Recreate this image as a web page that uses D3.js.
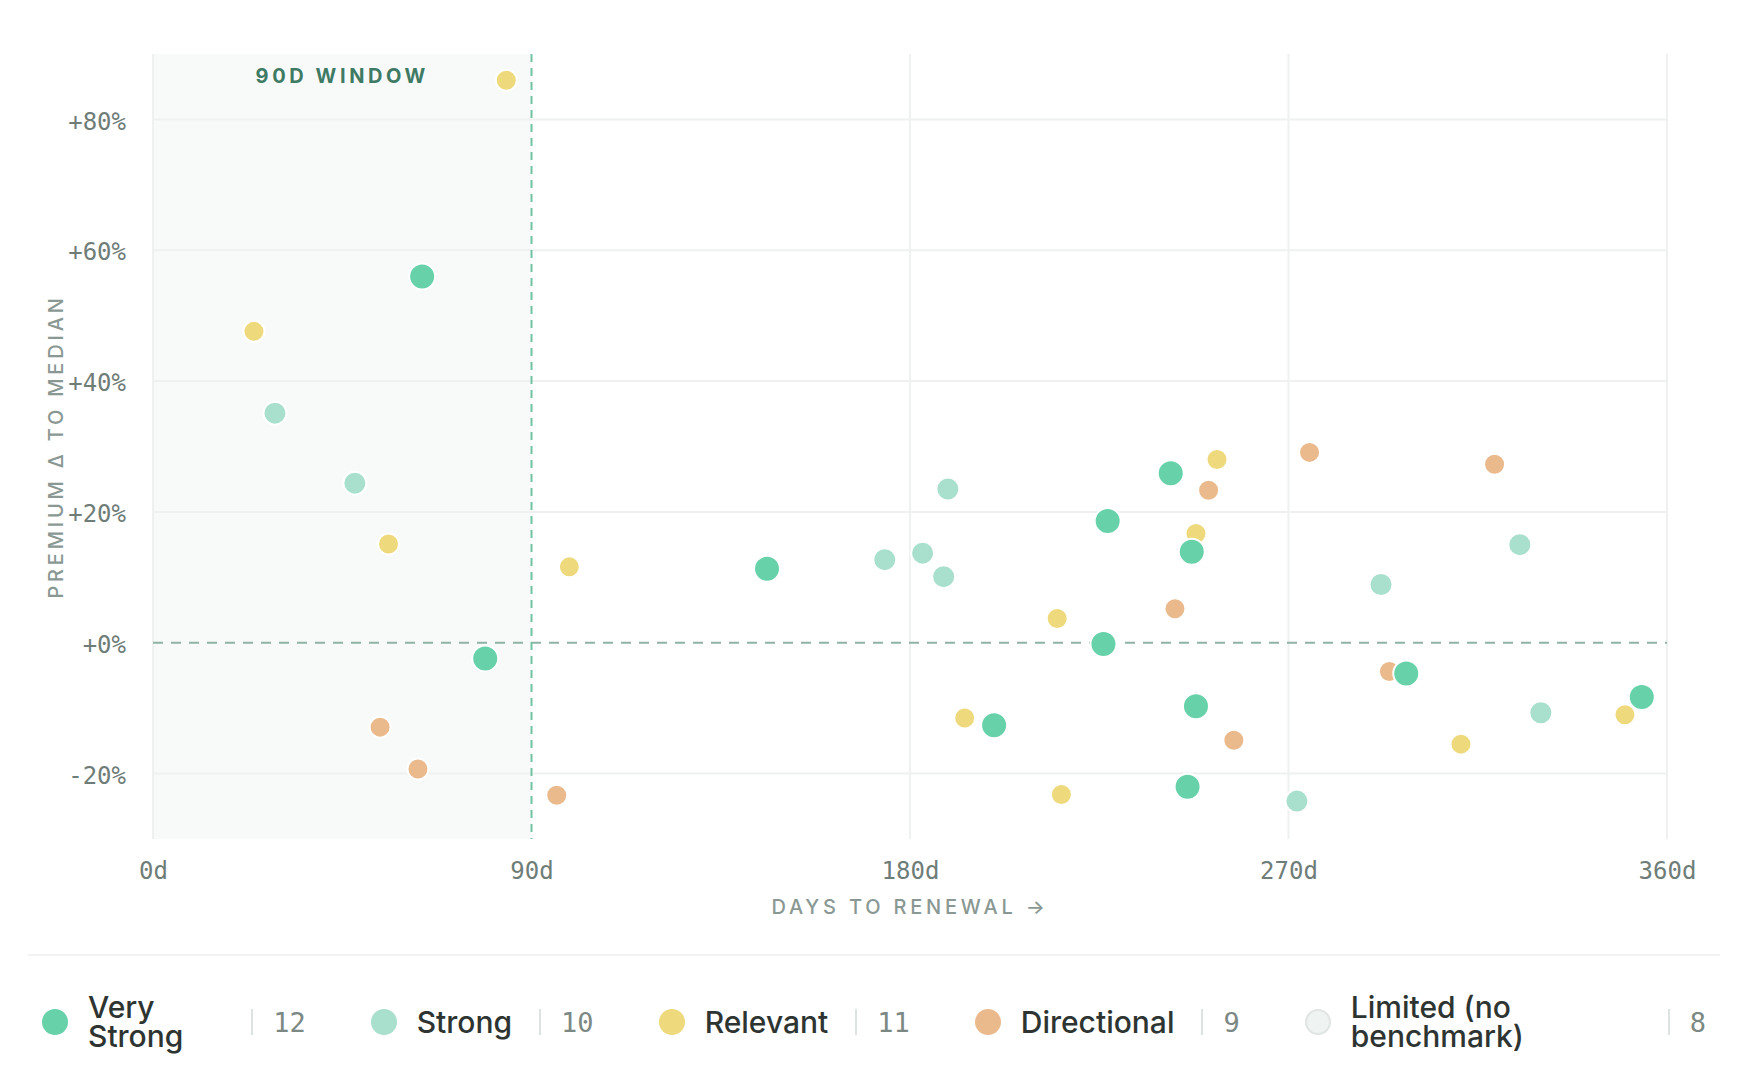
<!DOCTYPE html>
<html>
  <head>
    <meta charset="UTF-8" />
    <style>
      body {
        margin: 0;
        background: #fff;
        width: 1760px;
        height: 1088px;
        position: relative;
        overflow: hidden;
      }
      svg {
        position: absolute;
        left: 0;
        top: 0;
      }
      .tick text {
        font-family: "DejaVu Sans Mono", monospace;
        font-size: 24px;
        fill: #6f7d78;
      }
      .axis-title {
        font-family: Inter, sans-serif;
        font-size: 20px;
        font-weight: 500;
        letter-spacing: 3.8px;
        fill: #8a9893;
      }
      .legend {
        position: absolute;
        left: 28px;
        top: 954px;
        width: 1692px;
        box-sizing: border-box;
        border-top: 2px solid #f1f3f2;
        padding: 37px 14px 0 14px;
        display: flex;
        gap: 65px;
      }
      .item {
        display: flex;
        align-items: center;
        flex: 0 1 auto;
      }
      .dot {
        width: 26px;
        height: 26px;
        border-radius: 50%;
        flex: none;
        margin-right: 20px;
        box-sizing: border-box;
      }
      .lbl {
        flex: 1 1 auto;
        font-family: Inter, sans-serif;
        font-weight: 500;
        font-size: 30px;
        line-height: 29px;
        color: #2d3431;
      }
      .sep {
        flex: none;
        width: 2px;
        height: 26px;
        background: #dde3e0;
        margin: 0 20px 0 27px;
      }
      .cnt {
        flex: none;
        font-family: "DejaVu Sans Mono", monospace;
        font-size: 27px;
        color: #7b8883;
      }
    </style>
  </head>
  <body>
    <svg></svg>
    <div class="legend"></div>

    <script src="https://d3js.org/d3.v7.min.js"></script>
    <script>
      // categories + counts (legend)
      const categories = ["Very Strong", "Strong", "Relevant", "Directional", "Limited (no benchmark)"];
      const counts = [12, 10, 11, 9, 8];

      // days to renewal / premium vs median (%) per confidence level
      const veryStrongDays = [64, 79, 146, 200, 226, 227, 242, 246, 247, 248, 298, 354];
      const veryStrongPremium = [56.0, -2.4, 11.3, -12.6, -0.2, 18.6, 25.9, -22.0, 13.9, -9.7, -4.7, -8.3];
      const strongDays = [29, 48, 174, 183, 188, 189, 272, 292, 325, 330];
      const strongPremium = [35.1, 24.4, 12.7, 13.7, 10.1, 23.5, -24.2, 8.9, 15.0, -10.7];
      const relevantDays = [24, 56, 84, 99, 193, 215, 216, 248, 253, 311, 350];
      const relevantPremium = [47.6, 15.1, 86.0, 11.6, -11.5, 3.7, -23.2, 16.7, 28.0, -15.5, -11.0];
      const directionalDays = [54, 63, 96, 243, 251, 257, 275, 294, 319];
      const directionalPremium = [-12.9, -19.3, -23.3, 5.2, 23.3, -14.9, 29.1, -4.4, 27.3];
      // limited ones have no benchmark, so nothing to plot
      const limitedDays = [];
      const limitedPremium = [];

      const xTicks = [0, 90, 180, 270, 360];
      const yTicks = [-20, 0, 20, 40, 60, 80];

      const colors = ["#67d2aa", "#a9e0cd", "#eed97c", "#eab98c", "#eff3f1"];
      const radius = [13, 11.5, 10.5, 10.5, 10.5];

      let width = 1760,
        height = 950;
      const margin = { top: 54, right: 93, bottom: 111, left: 153 };

      let svg = d3.select("svg").attr("width", width).attr("height", height);

      let x = d3
        .scaleLinear()
        .domain([0, 360])
        .range([margin.left, width - margin.right]);
      let y = d3
        .scaleLinear()
        .domain([-30, 90])
        .range([height - margin.bottom, margin.top]);

      // 90 day window shade
      svg
        .append("rect")
        .attr("x", x(0))
        .attr("y", margin.top)
        .attr("width", x(90) - x(0))
        .attr("height", y(-30) - margin.top)
        .attr("fill", "#f8faf9");

      // grid
      svg
        .append("g")
        .selectAll("line")
        .data(yTicks.filter((d) => d != 0))
        .enter()
        .append("line")
        .attr("x1", x(0))
        .attr("x2", x(360))
        .attr("y1", (d) => y(d))
        .attr("y2", (d) => y(d))
        .attr("stroke", "#eef1f0")
        .attr("stroke-width", 2);
      svg
        .append("g")
        .selectAll("line")
        .data(xTicks.filter((d) => d != 90))
        .enter()
        .append("line")
        .attr("x1", (d) => x(d))
        .attr("x2", (d) => x(d))
        .attr("y1", y(90))
        .attr("y2", y(-30))
        .attr("stroke", "#eef1f0")
        .attr("stroke-width", 2);

      // zero line + window edge
      svg
        .append("line")
        .attr("x1", x(0))
        .attr("x2", x(360))
        .attr("y1", y(0))
        .attr("y2", y(0))
        .attr("stroke", "#8fb3a5")
        .attr("stroke-width", 2)
        .attr("stroke-dasharray", "10,8");
      svg
        .append("line")
        .attr("x1", x(90))
        .attr("x2", x(90))
        .attr("y1", y(90))
        .attr("y2", y(-30))
        .attr("stroke", "#72c3a4")
        .attr("stroke-width", 2)
        .attr("stroke-dasharray", "8,6");

      svg
        .append("text")
        .attr("x", x(45))
        .attr("y", 83)
        .attr("text-anchor", "middle")
        .style("font-family", "Inter, sans-serif")
        .style("font-weight", 700)
        .style("font-size", "20px")
        .style("letter-spacing", "3.6px")
        .style("fill", "#3f7a65")
        .text("90D WINDOW");

      // axes
      svg
        .append("g")
        .attr("transform", "translate(0," + y(-30) + ")")
        .call(
          d3
            .axisBottom(x)
            .tickValues(xTicks)
            .tickSize(0)
            .tickPadding(23)
            .tickFormat((d) => d + "d")
        )
        .call((g) => g.select(".domain").remove());
      svg
        .append("g")
        .attr("transform", "translate(" + x(0) + ",0)")
        .call(
          d3
            .axisLeft(y)
            .tickValues(yTicks)
            .tickSize(0)
            .tickPadding(27)
            .tickFormat((d) => (d >= 0 ? "+" : "") + d + "%")
        )
        .call((g) => g.select(".domain").remove())
        .call((g) => g.selectAll("text").attr("dy", "0.4em"));

      svg
        .append("text")
        .attr("class", "axis-title")
        .attr("x", (x(0) + x(360)) / 2)
        .attr("y", 914)
        .attr("text-anchor", "middle")
        .text("DAYS TO RENEWAL →");
      svg
        .append("text")
        .attr("class", "axis-title")
        .attr("transform", "translate(63," + (y(90) + y(-30)) / 2 + ") rotate(-90)")
        .attr("text-anchor", "middle")
        .text("PREMIUM Δ TO MEDIAN");

      // points, weakest first so very strong sits on top
      const series = [
        [limitedDays, limitedPremium],
        [directionalDays, directionalPremium],
        [relevantDays, relevantPremium],
        [strongDays, strongPremium],
        [veryStrongDays, veryStrongPremium],
      ];
      series.forEach(function (s, k) {
        let ci = 4 - k;
        svg
          .append("g")
          .selectAll("circle")
          .data(d3.range(s[0].length))
          .enter()
          .append("circle")
          .attr("cx", (i) => x(s[0][i]))
          .attr("cy", (i) => y(s[1][i]))
          .attr("r", radius[ci])
          .attr("fill", colors[ci])
          .attr("stroke", "#fff")
          .attr("stroke-width", 2);
      });

      // legend
      let items = d3
        .select(".legend")
        .selectAll("div")
        .data(categories)
        .enter()
        .append("div")
        .attr("class", "item");
      items
        .append("span")
        .attr("class", "dot")
        .style("background", (d, i) => colors[i])
        .style("border", (d, i) => (i == 4 ? "2px solid #dfe5e2" : "none"));
      items
        .append("span")
        .attr("class", "lbl")
        .text((d) => d);
      items.append("span").attr("class", "sep");
      items
        .append("span")
        .attr("class", "cnt")
        .text((d, i) => counts[i]);
    </script>
  </body>
</html>
